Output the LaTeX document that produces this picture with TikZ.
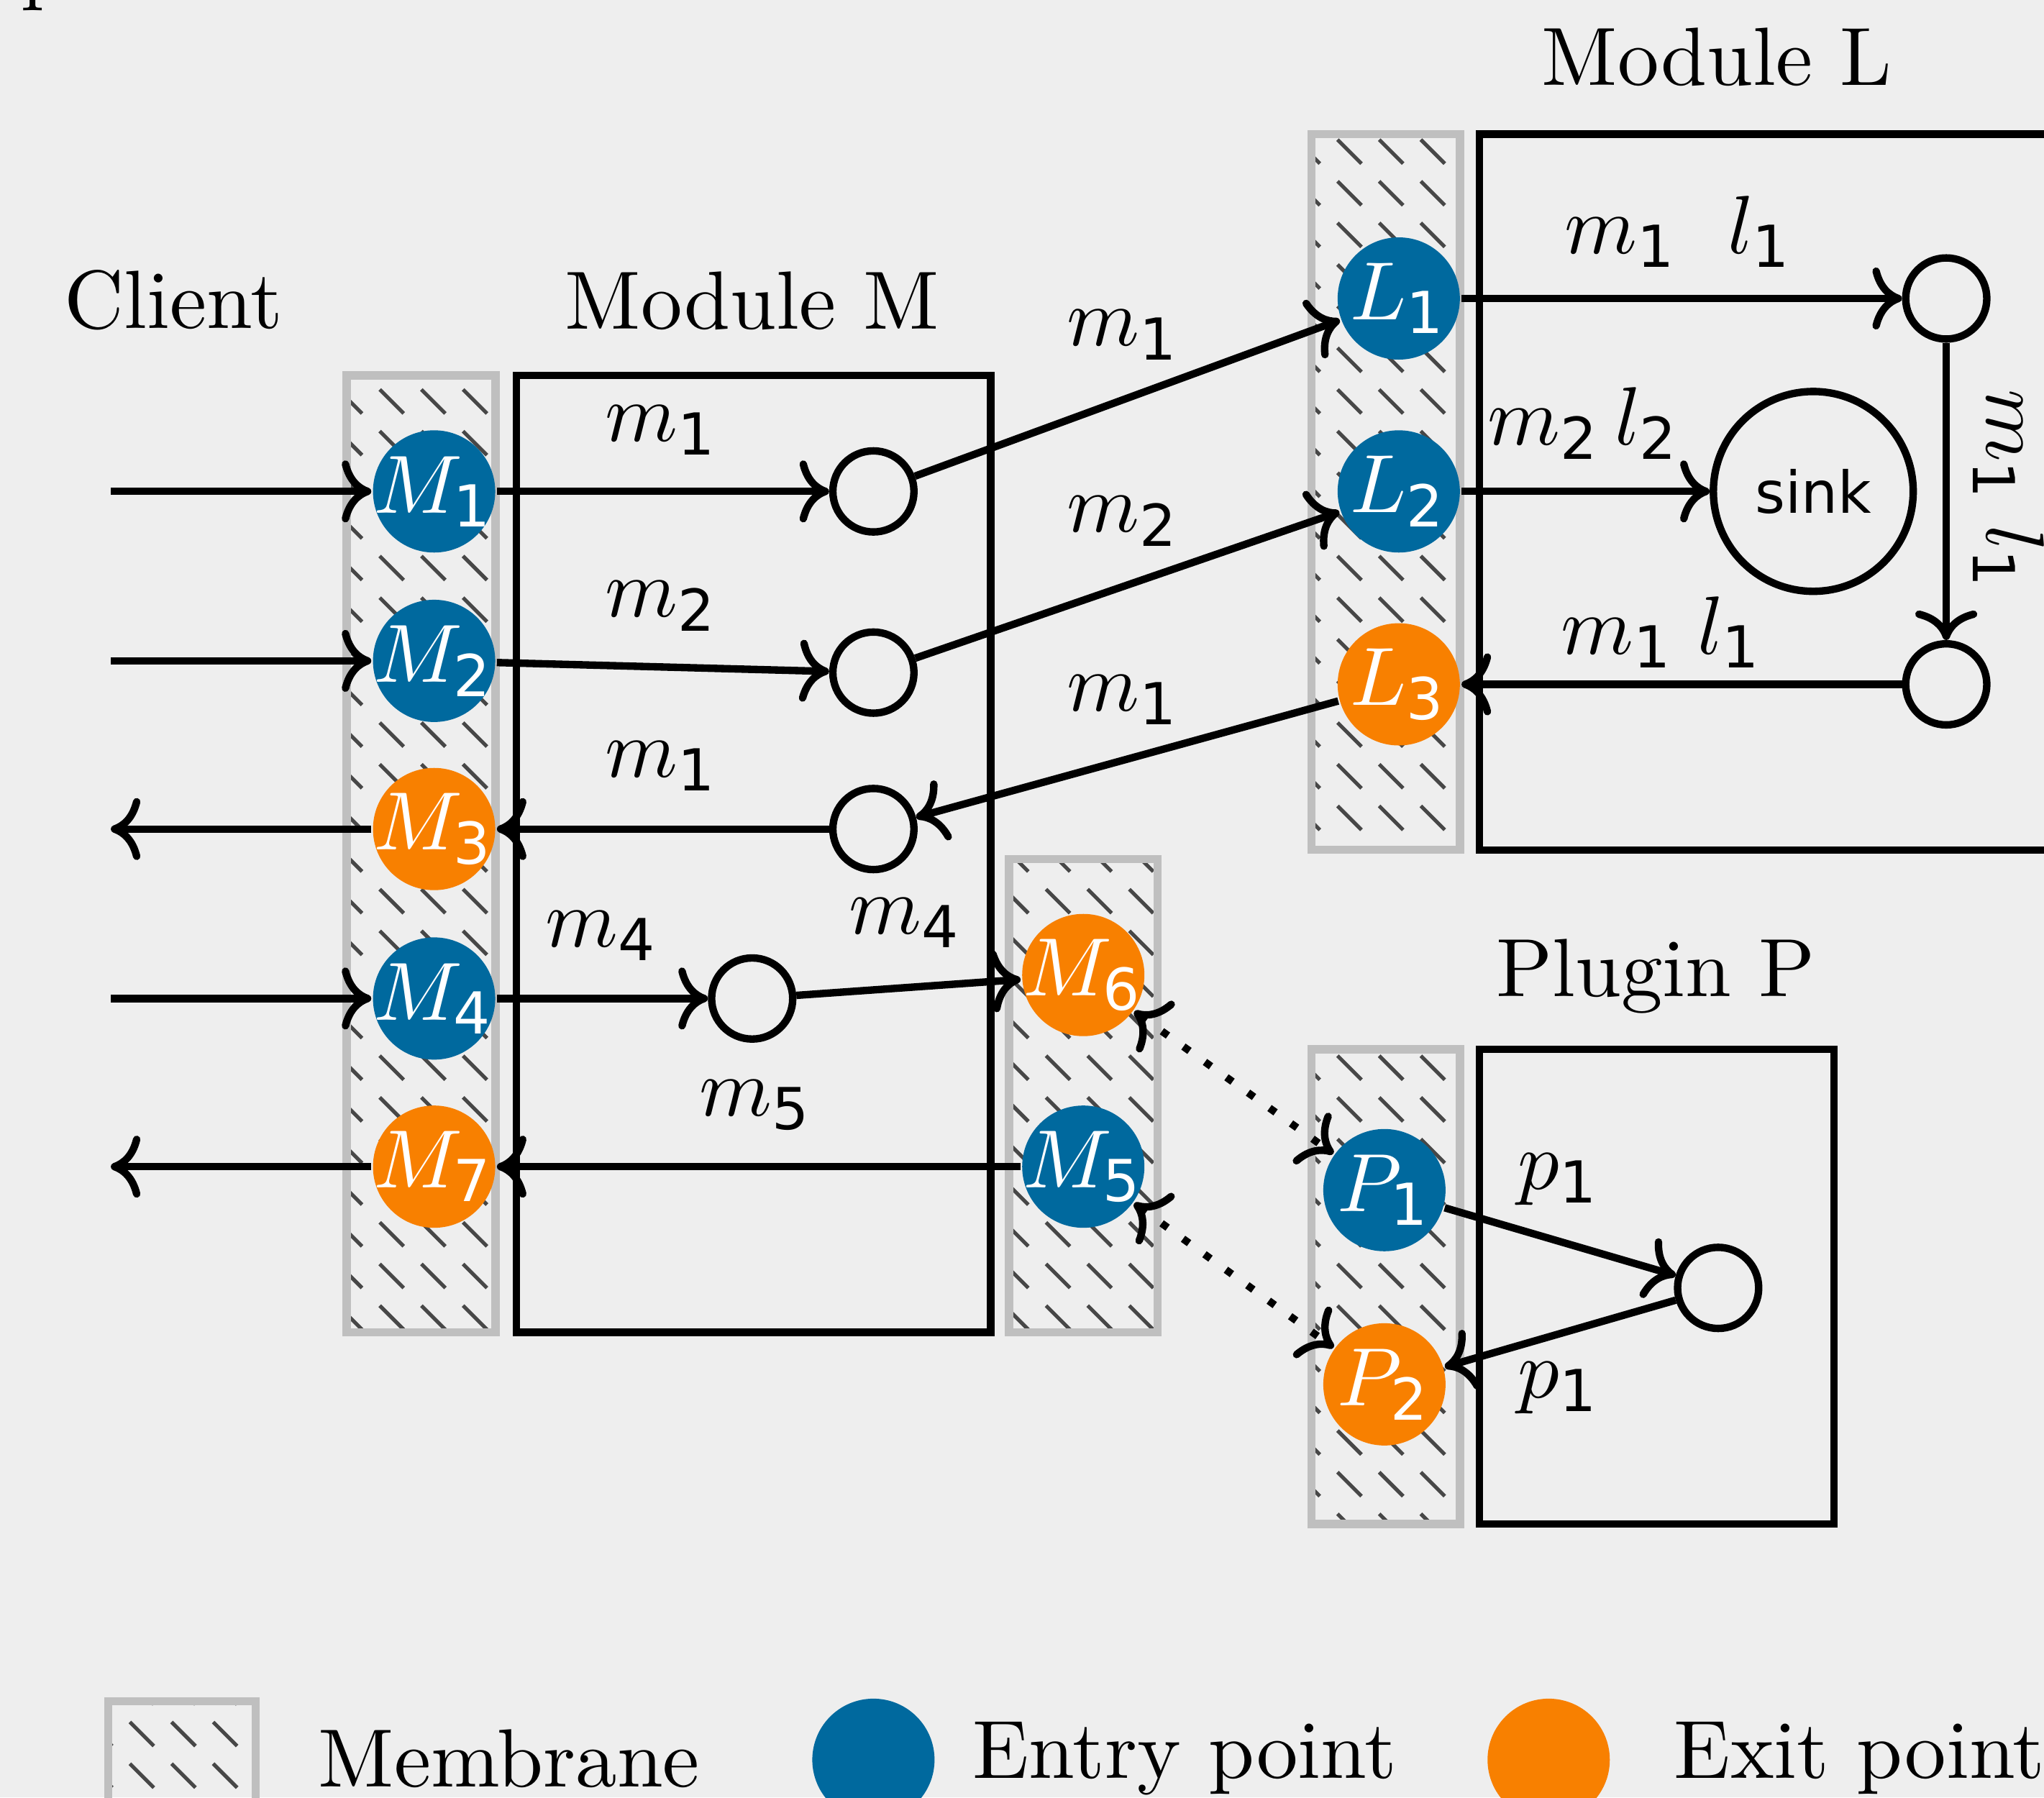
\documentclass[tikz,border=0pt]{standalone}
\usepackage{amsmath,amssymb}
\usepackage{fontspec}
\setsansfont{DejaVu Sans}
\usepackage{tikz}
\usetikzlibrary{arrows.meta,positioning,calc,patterns}

\definecolor{entryblue}{RGB}{0,105,158}
\definecolor{exitorange}{RGB}{248,128,0}
\definecolor{bgcol}{RGB}{238,238,238}

% short diagonal strokes for the membranes
\pgfdeclarepatternformonly{membrane lines}{\pgfqpoint{-0.5pt}{-0.5pt}}{\pgfqpoint{5.5pt}{5.5pt}}{\pgfqpoint{5.04pt}{5.04pt}}{%
  \pgfsetlinewidth{0.45pt}
  \pgfpathmoveto{\pgfqpoint{0.6pt}{4.1pt}}
  \pgfpathlineto{\pgfqpoint{3.5pt}{1.2pt}}
  \pgfusepath{stroke}}

% label of an entry/exit point, allowed to stick out of its circle
\newcommand{\ptlabel}[2]{\makebox[0pt]{$#1_{\textsf{#2}}$}}

\begin{document}
\begin{tikzpicture}[x=0.5545cm, y=-0.5545cm,
    entrypt/.style={circle, fill=entryblue, text=white, minimum size=0.52cm, inner sep=0pt},
    exitpt/.style={circle, fill=exitorange, text=white, minimum size=0.52cm, inner sep=0pt},
    port/.style={circle, draw, line width=0.9pt, minimum size=0.345cm, inner sep=0pt},
    membrane/.style={draw=black!25, line width=1pt, pattern=membrane lines, pattern color=black!72},
    module/.style={draw, line width=0.9pt},
    flow/.style={->, line width=0.9pt},
    call/.style={<->, line width=0.9pt, dash pattern=on 0.9pt off 2.3pt}]

    % crop and background
    \useasboundingbox (0,0) rectangle (15.68,13.79);
    \clip (0,0) rectangle (15.68,13.79);
    \fill[bgcol] (0,0) rectangle (15.68,13.79);

    % titles
    \node[anchor=base west, inner sep=0pt] (cut) at (0.15,-0.04) {p};
    \node (client) at (1.33,2.30) {Client};
    \node (titleM) at (5.77,2.31) {Module M};
    \node (titleL) at (13.17,0.44) {Module L};
    \node (titleP) at (12.70,7.49) {Plugin P};

    % membranes and modules
    \draw[membrane] (2.66,2.88) rectangle (3.80,10.22);
    \draw[module] (3.96,2.88) rectangle (7.60,10.22);
    \draw[membrane] (7.74,6.59) rectangle (8.88,10.22);
    \draw[membrane] (10.06,1.03) rectangle (11.20,6.52);
    \draw[module] (11.35,1.03) rectangle (16.20,6.52);
    \draw[membrane] (10.06,8.05) rectangle (11.20,11.69);
    \draw[module] (11.35,8.05) rectangle (14.07,11.69);

    % entry and exit points
    \node[entrypt] (M1) at (3.33,3.77) {\ptlabel{M}{1}};
    \node[entrypt] (M2) at (3.33,5.07) {\ptlabel{M}{2}};
    \node[exitpt]  (M3) at (3.33,6.36) {\ptlabel{M}{3}};
    \node[entrypt] (M4) at (3.33,7.66) {\ptlabel{M}{4}};
    \node[exitpt]  (M7) at (3.33,8.95) {\ptlabel{M}{7}};
    \node[exitpt]  (M6) at (8.31,7.48) {\ptlabel{M}{6}};
    \node[entrypt] (M5) at (8.31,8.95) {\ptlabel{M}{5}};
    \node[entrypt] (L1) at (10.73,2.29) {\ptlabel{L}{1}};
    \node[entrypt] (L2) at (10.73,3.77) {\ptlabel{L}{2}};
    \node[exitpt]  (L3) at (10.73,5.25) {\ptlabel{L}{3}};
    \node[entrypt] (P1) at (10.62,9.13) {\ptlabel{P}{1}};
    \node[exitpt]  (P2) at (10.62,10.62) {\ptlabel{P}{2}};

    % inner handlers
    \node[port] (c1) at (6.70,3.77) {};
    \node[port] (c2) at (6.70,5.16) {};
    \node[port] (c3) at (6.70,6.36) {};
    \node[port] (c4) at (5.77,7.66) {};
    \node[port] (la) at (14.93,2.29) {};
    \node[port] (lb) at (14.93,5.25) {};
    \node[port, minimum size=0.85cm, font=\sffamily\scriptsize] (sink) at (13.91,3.77) {sink};
    \node[port] (pp) at (13.18,9.88) {};

    % client side
    \coordinate (in1) at (0.85,3.77);
    \coordinate (in2) at (0.85,5.07);
    \coordinate (out3) at (0.85,6.36);
    \coordinate (in4) at (0.85,7.66);
    \coordinate (out7) at (0.85,8.95);
    \draw[flow] (in1) -- (M1);
    \draw[flow] (in2) -- (M2);
    \draw[flow] (M3) -- (out3);
    \draw[flow] (in4) -- (M4);
    \draw[flow] (M7) -- (out7);

    % module M
    \draw[flow] (M1) -- (c1);
    \draw[flow] (M2) -- (c2);
    \draw[flow] (c3) -- (M3);
    \draw[flow] (M4) -- (c4);
    \draw[flow] (c4) -- (M6);
    \draw[flow] (M5) -- (M7);
    \node (t1) at (5.08,3.30) {$m_{\textsf{1}}$};
    \node (t2) at (5.08,4.65) {$m_{\textsf{2}}$};
    \node (t3) at (5.08,5.88) {$m_{\textsf{1}}$};
    \node (t4) at (4.62,7.18) {$m_{\textsf{4}}$};
    \node (t5) at (6.95,7.08) {$m_{\textsf{4}}$};
    \node (t6) at (5.80,8.48) {$m_{\textsf{5}}$};

    % M to L
    \draw[flow] (c1) -- (L1);
    \draw[flow] (c2) -- (L2);
    \draw[flow] (L3) -- (c3);
    \node (t7) at (8.62,2.57) {$m_{\textsf{1}}$};
    \node (t8) at (8.62,4.00) {$m_{\textsf{2}}$};
    \node (t9) at (8.62,5.37) {$m_{\textsf{1}}$};

    % module L
    \draw[flow] (L1) -- (la);
    \draw[flow] (L2) -- (sink);
    \draw[flow] (la) -- (lb);
    \draw[flow] (lb) -- (L3);
    \node (t10) at (12.88,1.78) {$m_{\textsf{1}}\hspace{6pt}l_{\textsf{1}}$};
    \node (t11) at (12.15,3.25) {$m_{\textsf{2}}\,l_{\textsf{2}}$};
    \node (t12) at (12.75,4.85) {$m_{\textsf{1}}\;l_{\textsf{1}}$};
    \node[rotate=-90] (t13) at (15.41,3.76) {$m_{\textsf{1}}\;l_{\textsf{1}}$};

    % plugin P
    \draw[flow] (P1) -- (pp);
    \draw[flow] (pp) -- (P2);
    \node (t14) at (11.96,9.05) {$p_{\textsf{1}}$};
    \node (t15) at (11.96,10.65) {$p_{\textsf{1}}$};
    \draw[call] (M6) -- (P1);
    \draw[call] (M5) -- (P2);

    % legend
    \draw[membrane] (0.83,13.05) rectangle (1.96,14.50);
    \node[anchor=base west, inner sep=0pt] (legM) at (2.43,13.71) {Membrane};
    \node[entrypt] (legE) at (6.70,13.50) {};
    \node[anchor=base west, inner sep=0pt] (legEt) at (7.45,13.64) {Entry point};
    \node[exitpt] (legX) at (11.88,13.50) {};
    \node[anchor=base west, inner sep=0pt] (legXt) at (12.83,13.64) {Exit point};
  \end{tikzpicture}
\end{document}
